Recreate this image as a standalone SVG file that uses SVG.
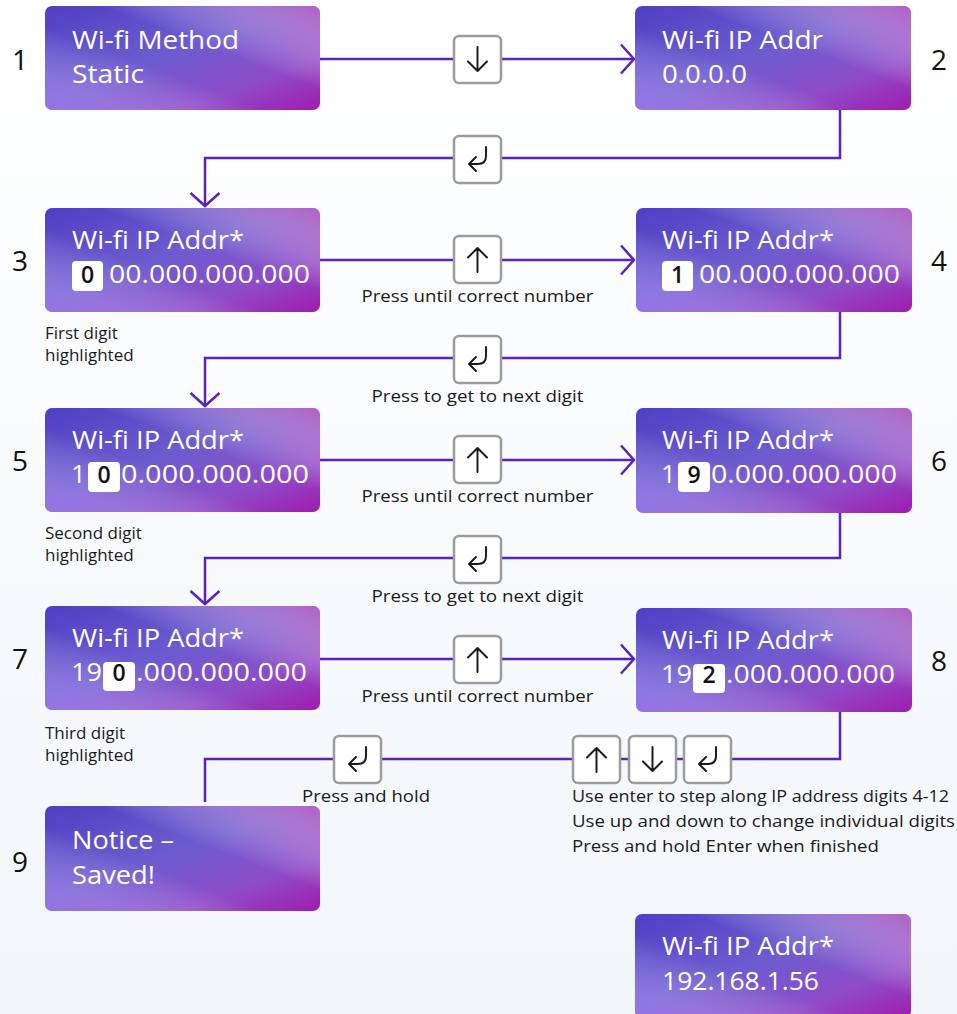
<svg xmlns="http://www.w3.org/2000/svg" width="957" height="1014" viewBox="0 0 957 1014">
<style>
.nt{font-family:"Open Sans","Liberation Sans",sans-serif;font-size:26px;fill:#ffffff}
.hd{font-family:"Open Sans","Liberation Sans",sans-serif;font-size:23px;font-weight:600;fill:#111111;text-anchor:middle}
.num{font-family:"Open Sans","Liberation Sans",sans-serif;font-size:28px;fill:#111111;text-anchor:middle}
.lb{font-family:"Open Sans","Liberation Sans",sans-serif;font-size:17px;fill:#1a1a1a}
.lbc{text-anchor:middle}
.conn{fill:none;stroke:#5a22c2;stroke-width:2.5}
.hl{fill:#ffffff}
.btn{fill:#ffffff;stroke:#9c9c9c;stroke-width:2.5}
.ico{fill:none;stroke:#1c1c1c;stroke-width:2;stroke-linecap:round;stroke-linejoin:round}
</style>
<defs>
<linearGradient id="bg" x1="0" y1="0" x2="0" y2="1">
<stop offset="0" stop-color="#ffffff"/>
<stop offset="1" stop-color="#f1f6f9"/>
</linearGradient>
<linearGradient id="gBase" x1="0" y1="0" x2="1" y2="1">
<stop offset="0" stop-color="#4f3fc4"/>
<stop offset="0.45" stop-color="#6c5ccf"/>
<stop offset="0.75" stop-color="#8e4cc8"/>
<stop offset="1" stop-color="#a01cae"/>
</linearGradient>
<linearGradient id="gGlow" x1="1" y1="0" x2="0" y2="1">
<stop offset="0" stop-color="#c860c0" stop-opacity="0.75"/>
<stop offset="0.4" stop-color="#ffffff" stop-opacity="0"/>
<stop offset="0.6" stop-color="#ffffff" stop-opacity="0"/>
<stop offset="1" stop-color="#b888ff" stop-opacity="0.5"/>
</linearGradient>
<marker id="arr" viewBox="0 0 16 32" refX="14.5" refY="16" markerWidth="16" markerHeight="32" markerUnits="userSpaceOnUse" orient="auto">
<path d="M1.5,1.5 L14.5,16 L1.5,30.5" fill="none" stroke="#5a22c2" stroke-width="2.5"/>
</marker>
<g id="bUp">
<rect class="btn" x="0" y="0" width="47" height="47" rx="5"/>
<path class="ico" d="M23.5,36 V12 M14,21.5 L23.5,12 L33,21.5"/>
</g>
<g id="bDown">
<rect class="btn" x="0" y="0" width="47" height="47" rx="5"/>
<path class="ico" d="M23.5,11 V35 M14,25.5 L23.5,35 L33,25.5"/>
</g>
<g id="bEnter">
<rect class="btn" x="0" y="0" width="47" height="47" rx="5"/>
<path class="ico" d="M32,11 V20 Q32,28 24,28 H15 M22,21 L15,28 L22,35"/>
</g>
</defs>

<rect x="0" y="0" width="957" height="1014" fill="url(#bg)"/>

<g id="connectors">
<path class="conn" d="M320,59 H634" marker-end="url(#arr)"/>
<path class="conn" d="M840,110 V158 H205 V206" marker-end="url(#arr)"/>
<path class="conn" d="M320,260 H634" marker-end="url(#arr)"/>
<path class="conn" d="M840,312 V358 H205 V406" marker-end="url(#arr)"/>
<path class="conn" d="M320,460 H634" marker-end="url(#arr)"/>
<path class="conn" d="M840,513 V558 H205 V604" marker-end="url(#arr)"/>
<path class="conn" d="M320,659 H634" marker-end="url(#arr)"/>
<path class="conn" d="M840,712 V759 H205 V802"/>
<use href="#bDown" x="454" y="36"/>
<use href="#bEnter" x="454" y="136"/>
<use href="#bUp" x="454" y="236"/>
<text class="lb lbc" x="477.5" y="302" textLength="232" lengthAdjust="spacingAndGlyphs">Press until correct number</text>
<use href="#bEnter" x="454" y="336"/>
<text class="lb lbc" x="477.5" y="402" textLength="212" lengthAdjust="spacingAndGlyphs">Press to get to next digit</text>
<use href="#bUp" x="454" y="436"/>
<text class="lb lbc" x="477.5" y="502" textLength="232" lengthAdjust="spacingAndGlyphs">Press until correct number</text>
<use href="#bEnter" x="454" y="536"/>
<text class="lb lbc" x="477.5" y="602" textLength="212" lengthAdjust="spacingAndGlyphs">Press to get to next digit</text>
<use href="#bUp" x="454" y="636"/>
<text class="lb lbc" x="477.5" y="702" textLength="232" lengthAdjust="spacingAndGlyphs">Press until correct number</text>
<use href="#bEnter" x="334" y="736"/>
<text class="lb lbc" x="366" y="802" textLength="128" lengthAdjust="spacingAndGlyphs">Press and hold</text>
<use href="#bUp" x="573" y="736"/>
<use href="#bDown" x="629" y="736"/>
<use href="#bEnter" x="684" y="736"/>
<text class="lb" x="572" y="802" textLength="377" lengthAdjust="spacingAndGlyphs">Use enter to step along IP address digits 4-12</text>
<text class="lb" x="572" y="827" textLength="383" lengthAdjust="spacingAndGlyphs">Use up and down to change individual digits</text>
<text class="lb" x="572" y="852" textLength="307" lengthAdjust="spacingAndGlyphs">Press and hold Enter when finished</text>
</g>

<g id="node1">
<rect x="45" y="6" width="275" height="104" rx="7" fill="url(#gBase)"/>
<rect x="45" y="6" width="275" height="104" rx="7" fill="url(#gGlow)"/>
<text class="nt" x="72" y="49" textLength="167" lengthAdjust="spacingAndGlyphs">Wi-fi Method</text>
<text class="nt" x="72" y="83" textLength="72" lengthAdjust="spacingAndGlyphs">Static</text>
<text class="num" x="20" y="70">1</text>
</g>

<g id="node2">
<rect x="635" y="6" width="276" height="104" rx="7" fill="url(#gBase)"/>
<rect x="635" y="6" width="276" height="104" rx="7" fill="url(#gGlow)"/>
<text class="nt" x="662" y="49" textLength="161" lengthAdjust="spacingAndGlyphs">Wi-fi IP Addr</text>
<text class="nt" x="662" y="83" textLength="85" lengthAdjust="spacingAndGlyphs">0.0.0.0</text>
<text class="num" x="939" y="70">2</text>
</g>

<g id="node3">
<rect x="45" y="208" width="275" height="104" rx="7" fill="url(#gBase)"/>
<rect x="45" y="208" width="275" height="104" rx="7" fill="url(#gGlow)"/>
<text class="nt" x="72" y="249" textLength="172" lengthAdjust="spacingAndGlyphs">Wi-fi IP Addr*</text>
<rect class="hl" x="72" y="261" width="31" height="30" rx="4"/>
<text class="hd" x="87.5" y="283">0</text>
<text class="nt" x="109" y="283" textLength="201" lengthAdjust="spacingAndGlyphs">00.000.000.000</text>
<text class="num" x="20" y="271">3</text>
<text class="lb" x="45" y="339">First digit</text>
<text class="lb" x="45" y="361">highlighted</text>
</g>

<g id="node4">
<rect x="636" y="208" width="276" height="104" rx="7" fill="url(#gBase)"/>
<rect x="636" y="208" width="276" height="104" rx="7" fill="url(#gGlow)"/>
<text class="nt" x="662" y="249" textLength="172" lengthAdjust="spacingAndGlyphs">Wi-fi IP Addr*</text>
<rect class="hl" x="662" y="261" width="31" height="30" rx="4"/>
<text class="hd" x="677.5" y="283">1</text>
<text class="nt" x="699" y="283" textLength="201" lengthAdjust="spacingAndGlyphs">00.000.000.000</text>
<text class="num" x="939" y="271">4</text>
</g>

<g id="node5">
<rect x="45" y="408" width="275" height="104" rx="7" fill="url(#gBase)"/>
<rect x="45" y="408" width="275" height="104" rx="7" fill="url(#gGlow)"/>
<text class="nt" x="72" y="449" textLength="172" lengthAdjust="spacingAndGlyphs">Wi-fi IP Addr*</text>
<text class="nt" x="71" y="483">1</text>
<rect class="hl" x="88" y="462" width="32" height="30" rx="4"/>
<text class="hd" x="104" y="483">0</text>
<text class="nt" x="121" y="483" textLength="188" lengthAdjust="spacingAndGlyphs">0.000.000.000</text>
<text class="num" x="20" y="471">5</text>
<text class="lb" x="45" y="539">Second digit</text>
<text class="lb" x="45" y="561">highlighted</text>
</g>

<g id="node6">
<rect x="636" y="408" width="276" height="105" rx="7" fill="url(#gBase)"/>
<rect x="636" y="408" width="276" height="105" rx="7" fill="url(#gGlow)"/>
<text class="nt" x="662" y="449" textLength="172" lengthAdjust="spacingAndGlyphs">Wi-fi IP Addr*</text>
<text class="nt" x="661" y="483">1</text>
<rect class="hl" x="678" y="462" width="32" height="30" rx="4"/>
<text class="hd" x="694" y="483">9</text>
<text class="nt" x="711" y="483" textLength="186" lengthAdjust="spacingAndGlyphs">0.000.000.000</text>
<text class="num" x="939" y="471">6</text>
</g>

<g id="node7">
<rect x="45" y="606" width="275" height="104" rx="7" fill="url(#gBase)"/>
<rect x="45" y="606" width="275" height="104" rx="7" fill="url(#gGlow)"/>
<text class="nt" x="72" y="647" textLength="172" lengthAdjust="spacingAndGlyphs">Wi-fi IP Addr*</text>
<text class="nt" x="71" y="681" textLength="31" lengthAdjust="spacingAndGlyphs">19</text>
<rect class="hl" x="103" y="662" width="32" height="29" rx="4"/>
<text class="hd" x="119" y="681">0</text>
<text class="nt" x="136" y="681" textLength="171" lengthAdjust="spacingAndGlyphs">.000.000.000</text>
<text class="num" x="20" y="669">7</text>
<text class="lb" x="45" y="739">Third digit</text>
<text class="lb" x="45" y="761">highlighted</text>
</g>

<g id="node8">
<rect x="636" y="608" width="276" height="104" rx="7" fill="url(#gBase)"/>
<rect x="636" y="608" width="276" height="104" rx="7" fill="url(#gGlow)"/>
<text class="nt" x="662" y="649" textLength="172" lengthAdjust="spacingAndGlyphs">Wi-fi IP Addr*</text>
<text class="nt" x="661" y="683" textLength="31" lengthAdjust="spacingAndGlyphs">19</text>
<rect class="hl" x="693" y="664" width="32" height="29" rx="4"/>
<text class="hd" x="709" y="683">2</text>
<text class="nt" x="726" y="683" textLength="169" lengthAdjust="spacingAndGlyphs">.000.000.000</text>
<text class="num" x="939" y="671">8</text>
</g>

<g id="node9">
<rect x="45" y="806" width="275" height="105" rx="7" fill="url(#gBase)"/>
<rect x="45" y="806" width="275" height="105" rx="7" fill="url(#gGlow)"/>
<text class="nt" x="72" y="849" textLength="102" lengthAdjust="spacingAndGlyphs">Notice –</text>
<text class="nt" x="72" y="884" textLength="83" lengthAdjust="spacingAndGlyphs">Saved!</text>
<text class="num" x="20" y="872">9</text>
</g>

<g id="node10">
<rect x="635" y="914" width="276" height="104" rx="7" fill="url(#gBase)"/>
<rect x="635" y="914" width="276" height="104" rx="7" fill="url(#gGlow)"/>
<text class="nt" x="662" y="955" textLength="172" lengthAdjust="spacingAndGlyphs">Wi-fi IP Addr*</text>
<text class="nt" x="662" y="990" textLength="157" lengthAdjust="spacingAndGlyphs">192.168.1.56</text>
</g>
</svg>
